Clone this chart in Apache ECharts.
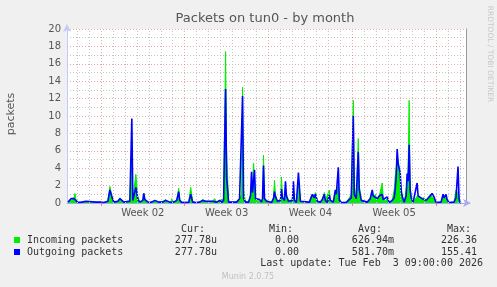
<!DOCTYPE html>
<html><head><meta charset="utf-8">
<script src="https://cdn.jsdelivr.net/npm/echarts@6/dist/echarts.min.js"></script>
<style>html,body{margin:0;padding:0;background:#f0f0f0}#c{width:497px;height:287px}</style>
</head><body><div id="c"></div>
<script>
// time in hours from the left edge of the plot (33.3 days shown)
const hours = [2,8,10,12,14,16,18,22,30,34,38,42,58,62,66,74,82,86,90,94,102,106,110,114,126,130,132,136,138,142,146,152,154,156,160,164,170,176,180,184,192,198,202,208,210,214,220,224,226,230,244,248,252,258,266,272,278,282,292,296,300,306,310,314,318,320,324,340,346,350,352,354,358,364,368,370,372,374,376,378,382,386,390,392,394,396,400,404,410,414,416,418,422,428,430,432,436,438,440,444,448,452,454,456,460,464,468,472,486,490,492,496,498,502,508,512,516,518,522,526,528,534,538,540,544,546,550,560,564,568,570,574,576,580,584,586,590,594,602,608,612,614,618,622,626,630,632,634,638,642,646,652,656,658,660,662,664,666,668,670,672,676,680,682,684,686,688,690,694,698,702,704,708,712,716,720,724,728,732,736,740,750,754,756,760,762,766,776,780,784,786,788,790];
const incoming = [0.1,0.3,0.5,0.3,0.6,1.1,0.4,0.1,0.1,0.2,0.15,0.05,0.1,0.05,0.1,0.05,0.2,1.9,0.8,0.1,0.2,0.6,0.4,0.1,0.3,6.0,0.3,0.4,3.3,0.8,0.1,0.3,1.1,0.5,0.3,0.05,0.1,0.3,0.4,0.1,0.2,0.4,0.1,0.1,0.5,0.1,0.3,1.7,0.4,0.1,0.1,1.8,0.2,0.05,0.1,0.4,0.2,0.1,0.2,0.5,0.1,0.3,0.1,0.5,17.4,6.0,0.1,0.1,0.5,1.0,13.3,1.5,0.1,0.1,1.0,2.5,1.5,4.6,3.0,0.6,0.3,0.5,0.1,0.5,5.5,0.6,0.3,0.1,0.1,0.6,2.6,1.0,0.2,0.4,3.0,0.8,0.3,1.5,1.0,0.3,0.1,0.3,1.5,0.4,0.1,2.2,0.3,0.05,0.1,0.8,0.6,0.8,1.2,0.2,0.1,0.5,1.2,0.3,0.1,1.5,0.3,0.2,1.2,0.8,2.0,0.5,0.05,0.1,0.4,0.6,1.0,11.8,2.0,0.5,7.4,2.0,0.4,0.1,0.1,0.6,1.3,0.7,1.0,0.4,0.8,1.0,2.3,0.6,0.2,0.5,0.05,0.3,1.5,3.0,4.0,4.5,5.0,4.9,3.0,1.5,0.6,0.1,1.5,2.5,4.0,11.8,2.0,0.8,0.1,0.3,0.8,0.6,0.5,0.7,0.6,0.3,0.6,1.0,1.0,0.5,0.05,0.1,0.8,0.6,0.8,0.4,0.05,0.1,1.5,1.3,0.8,0.05,0];
const outgoing = [0.1,0.5,0.6,0.3,0.5,0.6,0.3,0.05,0.1,0.2,0.2,0.05,0.1,0.05,0.1,0.05,0.2,1.5,0.7,0.1,0.2,0.5,0.3,0.1,0.2,9.7,0.3,0.5,1.8,0.4,0.1,0.3,1.1,0.4,0.2,0.05,0.1,0.3,0.4,0.1,0.1,0.3,0.1,0.05,0.2,0.1,0.3,1.3,0.3,0.05,0.05,1.0,0.1,0.05,0.1,0.3,0.2,0.1,0.2,0.4,0.1,0.3,0.05,0.3,13.1,3.0,0.1,0.1,0.5,0.6,12.3,0.5,0.1,0.1,0.8,3.6,1.2,2.5,3.8,0.5,0.3,0.4,0.1,0.5,4.3,0.5,0.2,0.05,0.05,0.5,1.3,0.7,0.2,0.3,1.6,0.6,0.3,2.5,0.8,0.2,0.1,0.3,2.5,0.3,0.05,3.5,0.2,0.05,0.1,0.7,1.0,0.6,1.0,0.2,0.1,0.4,1.0,0.3,0.05,0.9,0.3,0.1,1.5,1.0,4.1,0.3,0.05,0.05,0.3,0.5,0.6,10.0,1.0,0.5,5.9,1.5,0.3,0.1,0.1,0.5,1.5,0.8,0.8,0.5,0.8,0.8,1.0,0.4,0.2,0.7,0.05,0.3,0.6,1.5,3.0,6.2,4.5,4.0,3.5,1.5,0.8,0.1,0.8,3.4,2.5,6.7,1.5,0.6,0.1,0.3,2.3,0.8,0.6,0.5,0.6,0.3,0.5,0.8,1.1,0.7,0.05,0.1,1.0,0.6,1.0,0.4,0.05,0.1,0.6,4.2,0.5,0.05,0];
const weekLabels = ['Week 02','Week 03','Week 04','Week 05'];
const weekStartHours = [68,236,404,572,740];
const yTickLabels = ['0','2','4','6','8','10','12','14','16','18','20'];
const legendNames = ['Incoming packets','Outgoing packets'];
const legendCur = ['277.78u','277.78u'];
const legendMin = ['0.00','0.00'];
const legendAvg = ['626.94m','581.70m'];
const legendMax = ['226.36','155.41'];
const lastUpdate = 'Last update: Tue Feb  3 09:00:00 2026';

const GREEN = '#00ee00', BLUE = '#0000ff';
const GRID_GRAY = '#c4c4c4', GRID_RED = 'rgba(215,110,110,0.6)';
const dayHours = [];
for (let h = 20; h < 800; h += 24) if (weekStartHours.indexOf(h) < 0) dayHours.push(h);
const weekMid = weekLabels.map((_, i) => weekStartHours[i] + 84);

const chart = echarts.init(document.getElementById('c'), null, {renderer: 'canvas'});
const mono = '10px "DejaVu Sans Mono", monospace';
const txt = (x, y, text, align, opt) => Object.assign({
  type: 'text', x: x, y: y, silent: true,
  style: Object.assign({text: text, font: mono, fill: '#333', align: align || 'left', verticalAlign: 'middle'}, opt || {})
});
const graphics = [
  txt(265, 19, 'Packets on tun0 - by month', 'center', {font: '13px "DejaVu Sans", sans-serif', fill: '#555'}),
  Object.assign(txt(11, 114, 'packets', 'center', {font: '11px "DejaVu Sans", sans-serif', fill: '#555'}), {rotation: Math.PI / 2}),
  Object.assign(txt(490, 54, 'RRDTOOL / TOBI OETIKER', 'center', {font: '7.5px "DejaVu Sans", sans-serif', fill: '#c8c8c8'}), {rotation: -Math.PI / 2}),
  txt(181, 229, 'Cur:'), txt(269, 229, 'Min:'), txt(358, 229, 'Avg:'), txt(447, 229, 'Max:'),
  txt(483, 263, lastUpdate, 'right'),
  txt(248, 277, 'Munin 2.0.75', 'center', {font: '8px "DejaVu Sans", sans-serif', fill: '#c0c0c0'})
];
[GREEN, BLUE].forEach((c, i) => {
  const y = 240 + i * 12;
  graphics.push({type: 'rect', silent: true, shape: {x: 14, y: y - 3, width: 6, height: 6}, style: {fill: c}});
  graphics.push(txt(27, y, legendNames[i]));
  graphics.push(txt(217, y, legendCur[i], 'right'));
  graphics.push(txt(299, y, legendMin[i], 'right'));
  graphics.push(txt(394, y, legendAvg[i], 'right'));
  graphics.push(txt(477, y, legendMax[i], 'right'));
});

chart.setOption({
  animation: false,
  backgroundColor: '#f0f0f0',
  grid: {left: 67, right: 31, top: 29, bottom: 84, show: true, backgroundColor: '#ffffff', borderWidth: 0},
  xAxis: {
    type: 'value', min: 0, max: 800,
    axisLine: {show: true, lineStyle: {color: '#aaaaf0', width: 1}, symbol: ['none', 'arrow'], symbolSize: [6, 8], symbolOffset: [0, 5]},
    axisTick: {show: true, customValues: weekStartHours, length: 3, inside: false, lineStyle: {color: '#dd8888'}},
    axisLabel: {customValues: weekMid, margin: 5, color: '#555', fontSize: 10, fontFamily: 'DejaVu Sans',
      formatter: v => weekLabels[weekMid.indexOf(v)] || ''},
    splitLine: {show: false}
  },
  yAxis: [{
    type: 'value', min: 0, max: 20, interval: 2,
    axisLine: {show: true, lineStyle: {color: '#c8c8f8', width: 1}, symbol: ['none', 'arrow'], symbolSize: [6, 8], symbolOffset: [0, 5]},
    axisTick: {show: false},
    axisLabel: {color: '#555', fontSize: 10, fontFamily: 'DejaVu Sans', margin: 6, formatter: v => yTickLabels[v / 2]},
    splitLine: {show: true, lineStyle: {color: GRID_RED, type: [1, 2]}},
    minorTick: {show: false, splitNumber: 2},
    minorSplitLine: {show: true, lineStyle: {color: GRID_GRAY, type: [1, 2]}}
  }, {
    type: 'value', min: 0, max: 20, position: 'right',
    axisLine: {show: true, lineStyle: {color: '#999', width: 1}},
    axisTick: {show: false}, axisLabel: {show: false}, splitLine: {show: false}
  }],
  graphic: graphics,
  series: [
    {type: 'line', data: [], z: 1, silent: true,
      markLine: {silent: true, symbol: ['none', 'none'], label: {show: false},
        lineStyle: {color: GRID_GRAY, type: [1, 2], width: 1},
        data: dayHours.map(h => ({xAxis: h}))}},
    {type: 'line', data: [], z: 1, silent: true,
      markLine: {silent: true, symbol: ['none', 'none'], label: {show: false},
        lineStyle: {color: GRID_RED, type: [1, 2], width: 1},
        data: weekStartHours.map(h => ({xAxis: h}))}},
    {name: legendNames[0], type: 'line', z: 3, showSymbol: false, silent: true,
      data: hours.map((h, i) => [h, incoming[i]]),
      lineStyle: {color: GREEN, width: 1}, itemStyle: {color: GREEN},
      areaStyle: {color: GREEN, opacity: 1}},
    {name: legendNames[1], type: 'line', z: 4, showSymbol: false, silent: true,
      data: hours.map((h, i) => [h, outgoing[i]]),
      lineStyle: {color: BLUE, width: 1.6}, itemStyle: {color: BLUE}}
  ]
});
</script></body></html>
